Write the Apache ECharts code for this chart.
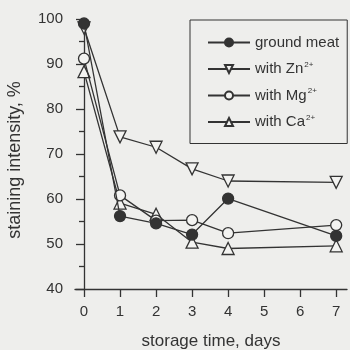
<!DOCTYPE html>
<html>
<head>
<meta charset="utf-8">
<script src="https://cdn.jsdelivr.net/npm/echarts@6/dist/echarts.min.js"></script>
<style>
  html, body { margin: 0; padding: 0; background: #eeeeec; }
  #chart { width: 350px; height: 350px; }
</style>
</head>
<body>
<div id="chart"></div>
<script>
const days = [0, 1, 2, 3, 4, 7]
const groundMeat = [99, 56.2, 54.6, 52.1, 60.1, 51.8]
const withZn = [98, 73.8, 71.5, 66.7, 64, 63.7]
const withMg = [91.2, 60.8, 55.2, 55.3, 52.4, 54.2]
const withCa = [88.3, 59.1, 56.6, 50.4, 49, 49.6]
const xTicks = [0, 1, 2, 3, 4, 5, 6, 7]

const ink = "#333333"
const paper = "#f3f3f1"
const fontFamily = "Liberation Sans, Arial, sans-serif"

function pairs(values) {
  return values.map((v, i) => [days[i], v])
}

function makeSeries(name, values, symbol, filled, rotate, z) {
  return {
    name: name,
    type: "line",
    data: pairs(values),
    symbol: symbol,
    symbolSize: symbol === "circle" ? 11 : 12,
    symbolRotate: rotate,
    showAllSymbol: true,
    clip: false,
    z: z,
    lineStyle: { color: ink, width: 1.3 },
    itemStyle: {
      color: filled ? ink : paper,
      borderColor: ink,
      borderWidth: 1.3,
    },
    emphasis: { disabled: true },
  }
}

const chart = echarts.init(document.getElementById("chart"))
chart.setOption({
  backgroundColor: "#eeeeec",
  animation: false,
  textStyle: { fontFamily: fontFamily, color: ink },
  grid: { left: 75, right: 3, top: 19, bottom: 61, outerBoundsMode: "none" },
  legend: {
    orient: "vertical",
    left: 190,
    top: 20,
    padding: [15, 8, 14, 17],
    itemGap: 10.5,
    itemWidth: 42,
    itemHeight: 10,
    borderColor: ink,
    borderWidth: 1,
    data: ["ground meat", "with Zn", "with Mg", "with Ca"],
    formatter: function (name) {
      if (name === "ground meat") return "{a|" + name + "}"
      return "{a|" + name + "}{s|2+}"
    },
    textStyle: {
      color: ink,
      fontSize: 15,
      rich: {
        a: { fontSize: 15, color: ink, lineHeight: 17, fontFamily: fontFamily },
        s: { fontSize: 8, color: ink, verticalAlign: "top", lineHeight: 17, padding: [0, 0, 6, 1], fontFamily: fontFamily },
      },
    },
  },
  xAxis: {
    type: "value",
    min: -0.25,
    max: 7.3,
    name: "storage time, days",
    nameLocation: "middle",
    nameGap: 44,
    nameTextStyle: { fontSize: 17, color: ink },
    splitLine: { show: false },
    axisLine: { show: true, lineStyle: { color: ink, width: 1.3 } },
    axisTick: { show: true, length: 8, customValues: xTicks, lineStyle: { color: ink, width: 1.3 } },
    axisLabel: { customValues: xTicks, fontSize: 15, color: ink, margin: 15 },
  },
  yAxis: {
    type: "value",
    min: 40,
    max: 100,
    interval: 10,
    name: "staining intensity, %",
    nameLocation: "middle",
    nameGap: 51,
    nameTextStyle: { fontSize: 18, color: ink, padding: [0, 12, 0, 0] },
    splitLine: { show: false },
    axisLine: { show: true, lineStyle: { color: ink, width: 1.3 } },
    axisTick: { show: true, length: 8, lineStyle: { color: ink, width: 1.3 } },
    minorTick: { show: true, splitNumber: 2, length: 5, lineStyle: { color: ink, width: 1.3 } },
    axisLabel: { fontSize: 15, color: ink, margin: 12 },
  },
  series: [
    makeSeries("ground meat", groundMeat, "circle", true, 0, 5),
    makeSeries("with Zn", withZn, "triangle", false, 180, 4),
    makeSeries("with Mg", withMg, "circle", false, 0, 3),
    makeSeries("with Ca", withCa, "triangle", false, 0, 2),
  ],
})
</script>
</body>
</html>
